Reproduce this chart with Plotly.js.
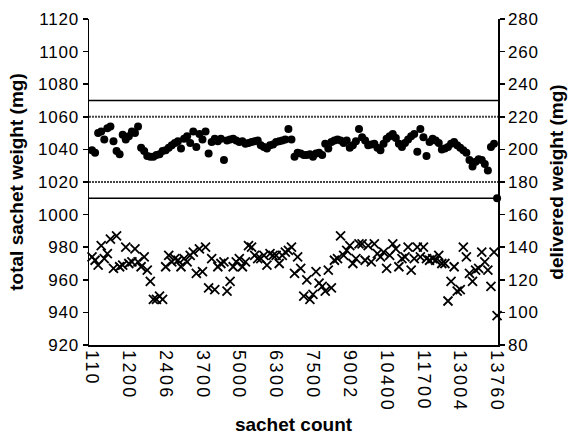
<!DOCTYPE html>
<html>
<head>
<meta charset="utf-8">
<script src="https://cdn.plot.ly/plotly-3.0.1.min.js"></script>
<style>
  html, body { margin: 0; padding: 0; background: #fff; }
  #chart { width: 574px; height: 435px; }
  #chart .xtick text { letter-spacing: 2.4px; }
  #chart .ytick text, #chart .y2tick text { letter-spacing: 0.8px; }
</style>
</head>
<body>
<div id="chart"></div>
<script>
// Sample index (category position) and the labels shown on the x axis
const tickPositions = [0, 12, 24, 36, 48, 60, 72, 84, 96, 108, 120, 132];
const tickLabels = ["110", "1200", "2406", "3700", "5000", "6300", "7500", "9002", "10400", "11700", "13004", "13760"];

// total sachet weight (mg), left axis
const totalWeight = [
  1039.5, 1038, 1050, 1051, 1046, 1053, 1054, 1045, 1039, 1037,
  1049, 1046, 1048, 1051, 1050, 1054, 1041, 1039, 1036, 1035.5,
  1035.5, 1036.5, 1037, 1039, 1039.5, 1041, 1042.5, 1044, 1045, 1040.5,
  1046.5, 1048, 1044, 1051, 1041.5, 1049.5, 1046, 1051, 1037.5, 1044.5,
  1046.5, 1045, 1046.5, 1033.5, 1045.5, 1046, 1046.5, 1045.5, 1044.5, 1045,
  1043.5, 1044, 1044.5, 1045, 1045.5, 1042.5, 1041.5, 1040.5, 1042.5, 1043,
  1044.5, 1045, 1045.5, 1046, 1052.5, 1046, 1035.5, 1038, 1037.5, 1036.5,
  1036.5, 1037, 1035.5, 1037.5, 1038, 1036.5, 1043.5, 1040.5, 1044.5, 1045.5,
  1046, 1045.5, 1044, 1045.5, 1041, 1042.5, 1045, 1052.5, 1047.5, 1045.5,
  1042.5, 1043, 1043.5, 1041, 1039.5, 1043.5, 1046.5, 1048, 1049.5, 1047,
  1043.5, 1041.5, 1044, 1046, 1048, 1049.5, 1038.5, 1052.5, 1047.5, 1036,
  1044.5, 1046.5, 1045.5, 1044, 1040, 1040.5, 1041.5, 1043.5, 1044.5, 1042.5,
  1041, 1039.5, 1038, 1033.5, 1029.5, 1032.5, 1034, 1033.5, 1031, 1027,
  1041.5, 1043.5, 1010
];

// delivered weight (mg), right axis
const deliveredWeight = [
  134, 132, 129, 141, 133, 136, 145, 127, 147, 128,
  129, 140, 130, 131, 139, 131, 128, 134, 126, 119,
  108, 108, 110, 108, 128, 135, 131, 133, 132, 128,
  133, 131, 135, 137, 124, 139, 125, 140, 115, 133,
  114, 128, 130, 131, 113, 119, 128, 131, 133, 128,
  131, 141, 140, 135, 133, 133, 135, 129, 136, 135,
  135, 130, 135, 137, 138, 140, 124, 134, 127, 110,
  120, 108, 111, 125, 118, 116, 113, 126, 115, 132,
  133, 147, 135, 138, 141, 130, 133, 142, 142, 132,
  141, 131, 142, 136, 134, 137, 127, 135, 142, 139,
  128, 133, 134, 140, 126, 133, 140, 134, 140, 133,
  132, 133, 132, 135, 130, 130, 107, 119, 128, 113,
  114, 140, 134, 124, 119, 126, 127, 137, 131, 126,
  116, 137, 98
];

// specification limits (left axis units)
const solidLimits = [1070, 1010];
const dottedLimits = [1060, 1020];

const idx = totalWeight.map((_, i) => i);

const font = "'Liberation Sans', Arial, sans-serif";

const traces = [
  {
    x: idx, y: totalWeight, type: 'scatter', mode: 'markers',
    name: 'total sachet weight',
    marker: { symbol: 'circle', size: 8, color: '#000' },
    yaxis: 'y', cliponaxis: false
  },
  {
    x: idx, y: deliveredWeight, type: 'scatter', mode: 'markers',
    name: 'delivered weight',
    marker: { symbol: 'x-thin', size: 9, color: '#000', line: { color: '#000', width: 1.8 } },
    yaxis: 'y2', cliponaxis: false
  }
];

const shapes = [];
solidLimits.forEach(v => shapes.push({
  type: 'line', xref: 'paper', x0: 0, x1: 1, yref: 'y', y0: v, y1: v,
  line: { color: '#000', width: 1.5 }
}));
dottedLimits.forEach(v => shapes.push({
  type: 'line', xref: 'paper', x0: 0, x1: 1, yref: 'y', y0: v, y1: v,
  line: { color: '#444', width: 2, dash: '2px,1px' }
}));

const layout = {
  width: 574, height: 435,
  margin: { l: 89, r: 76, t: 19, b: 90 },
  paper_bgcolor: '#fff', plot_bgcolor: '#fff',
  showlegend: false,
  font: { family: font, color: '#000', size: 17 },
  xaxis: {
    range: [-0.98, 132.3],
    tickvals: tickPositions, ticktext: tickLabels,
    tickangle: 90, ticks: '', showgrid: false, zeroline: false,
    showline: true, linecolor: '#000', linewidth: 1.5,
    tickfont: { family: font, size: 18, color: '#000' },
    title: { text: 'sachet count', font: { family: font, size: 19, weight: 'bold', color: '#000' }, standoff: 24 }
  },
  yaxis: {
    range: [920, 1120], dtick: 20, tick0: 920,
    ticks: 'outside', ticklen: 5, tickwidth: 1.5, tickcolor: '#000',
    showgrid: false, zeroline: false,
    showline: true, linecolor: '#000', linewidth: 1.5,
    tickfont: { family: font, size: 17, color: '#000' },
    title: { text: 'total sachet weight (mg)', font: { family: font, size: 19, weight: 'bold', color: '#000' }, standoff: 12 }
  },
  yaxis2: {
    range: [80, 280], dtick: 20, tick0: 80,
    overlaying: 'y', side: 'right',
    ticks: 'outside', ticklen: 5, tickwidth: 1.5, tickcolor: '#000',
    showgrid: false, zeroline: false,
    showline: true, linecolor: '#000', linewidth: 1.5,
    tickfont: { family: font, size: 17, color: '#000' },
    title: { text: 'delivered weight (mg)', font: { family: font, size: 19, weight: 'bold', color: '#000' }, standoff: 14 }
  },
  shapes: shapes
};

Plotly.newPlot('chart', traces, layout, { staticPlot: true, displayModeBar: false });
</script>
</body>
</html>
